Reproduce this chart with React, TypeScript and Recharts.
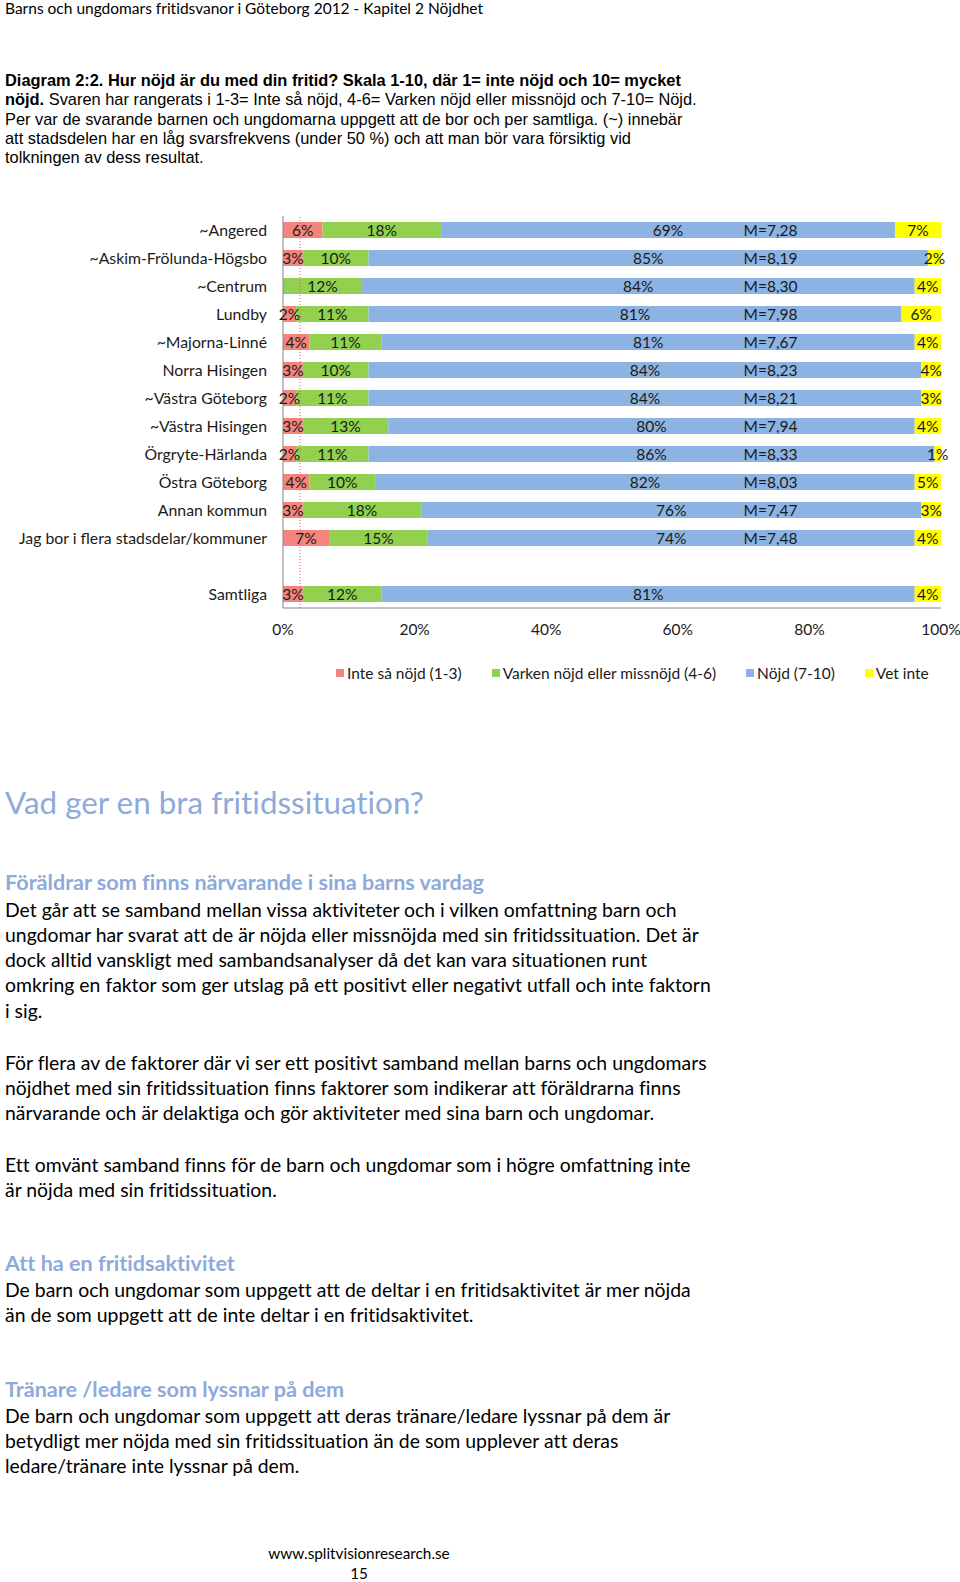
import React from "react";
import { BarChart, Bar, XAxis, YAxis, LabelList, ReferenceLine, Legend } from "recharts";

const categories = [
  "~Angered",
  "~Askim-Frölunda-Högsbo",
  "~Centrum",
  "Lundby",
  "~Majorna-Linné",
  "Norra Hisingen",
  "~Västra Göteborg",
  "~Västra Hisingen",
  "Örgryte-Härlanda",
  "Östra Göteborg",
  "Annan kommun",
  "Jag bor i flera stadsdelar/kommuner",
  "",
  "Samtliga",
];
const inteNojd = [6, 3, 0, 2, 4, 3, 2, 3, 2, 4, 3, 7, null, 3];
const varken = [18, 10, 12, 11, 11, 10, 11, 13, 11, 10, 18, 15, null, 12];
const nojd = [69, 85, 84, 81, 81, 84, 84, 80, 86, 82, 76, 74, null, 81];
const vetInte = [7, 2, 4, 6, 4, 4, 3, 4, 1, 5, 3, 4, null, 4];
const meanLabels = [
  "M=7,28", "M=8,19", "M=8,30", "M=7,98", "M=7,67", "M=8,23", "M=8,21",
  "M=7,94", "M=8,33", "M=8,03", "M=7,47", "M=7,48", "", "M=8",
];
const seriesNames = [
  "Inte så nöjd (1-3)",
  "Varken nöjd eller missnöjd (4-6)",
  "Nöjd (7-10)",
  "Vet inte",
];
const xTicks = [0, 20, 40, 60, 80, 100];
const referenceValue = 2.6;
const meanLabelPosition = 70;

const COLORS = ["#F4857C", "#92D050", "#8DB3E2", "#FFFF00"];
const CHART_FONT = "Lato, 'Noto Sans', sans-serif";
const TEXT_FONT = "Lato, 'Noto Sans', sans-serif";
const HEAD_BLUE = "#8EAADB";
const LABEL_SIZE = 15.5;

const data = categories.map((name, i) => ({
  name,
  inte: inteNojd[i],
  varken: varken[i],
  nojd: nojd[i],
  vet: vetInte[i],
  mean: meanLabels[i],
}));

const pctLabel = (props: any) => {
  const { x, y, width, height, value } = props;
  if (value == null || value === 0) return null;
  return (
    <text
      x={Number(x) + Number(width) / 2}
      y={Number(y) + Number(height) / 2}
      textAnchor="middle"
      dominantBaseline="central"
      fontSize={LABEL_SIZE}
      fontFamily={CHART_FONT}
      fill="#1a1a1a"
    >
      {value}%
    </text>
  );
};

const meanLabel = (props: any) => {
  const { x, y, width, height, index } = props;
  const txt = meanLabels[index];
  const val = nojd[index];
  if (!txt || !val) return null;
  const start = (inteNojd[index] || 0) + (varken[index] || 0);
  const px = Number(x) + ((meanLabelPosition - start) * Number(width)) / val;
  return (
    <text
      x={px}
      y={Number(y) + Number(height) / 2}
      textAnchor="start"
      dominantBaseline="central"
      fontSize={LABEL_SIZE}
      fontFamily={CHART_FONT}
      fill="#1a1a1a"
    >
      {txt}
    </text>
  );
};

const legendContent = () => (
  <div
    style={{
      display: "flex",
      justifyContent: "flex-start",
      alignItems: "center",
      height: 20,
      paddingLeft: 336,
      fontFamily: CHART_FONT,
      fontSize: LABEL_SIZE,
      color: "#1a1a1a",
      whiteSpace: "nowrap",
    }}
  >
    {seriesNames.map((name, i) => (
      <div key={i} style={{ display: "flex", alignItems: "center", marginRight: 30 }}>
        <span style={{ width: 8, height: 8, background: COLORS[i], display: "inline-block", marginRight: 3 }} />
        <span>{name}</span>
      </div>
    ))}
  </div>
);

const Lines = ({ lines, top, left, size, lh, color, weight, family, center }: any) => (
  <div
    style={{
      position: "absolute",
      top,
      left,
      fontSize: size,
      lineHeight: `${lh}px`,
      color: color || "#000",
      fontWeight: weight || 400,
      fontFamily: family || TEXT_FONT,
      whiteSpace: "nowrap",
      fontVariantLigatures: "none",
      textAlign: center ? "center" : "left",
      width: center ? 300 : undefined,
    }}
  >
    {lines.map((l: string, i: number) => (
      <div key={i}>{l}</div>
    ))}
  </div>
);

const BODY = 19.4;
const SUB = 21.6;

export default function App() {
  return (
    <div style={{ position: "absolute", left: 0, top: 0, width: 960, height: 1582, background: "#fff", overflow: "hidden" }}>
      <Lines
        top={0}
        left={5}
        size={15.5}
        lh={17}
        lines={["Barns och ungdomars fritidsvanor i Göteborg 2012  - Kapitel 2 Nöjdhet"]}
      />
      <div
        style={{
          position: "absolute",
          top: 71,
          left: 5,
          fontFamily: "'Liberation Sans', Arial, sans-serif",
          fontSize: 16.4,
          lineHeight: "19.3px",
          whiteSpace: "nowrap",
          color: "#000",
        }}
      >
        <div><b>Diagram 2:2. Hur nöjd är du med din fritid? Skala 1-10, där 1= inte nöjd och 10= mycket</b></div>
        <div><b>nöjd.</b> Svaren har rangerats i 1-3= Inte så nöjd, 4-6= Varken nöjd eller missnöjd och 7-10= Nöjd.</div>
        <div>Per var de svarande barnen och ungdomarna uppgett att de bor och per samtliga. (~) innebär</div>
        <div>att stadsdelen har en låg svarsfrekvens (under 50 %) och att man bör vara försiktig vid</div>
        <div>tolkningen av dess resultat.</div>
      </div>

      <div style={{ position: "absolute", left: 0, top: 200 }}>
        <BarChart
          width={960}
          height={500}
          data={data}
          layout="vertical"
          margin={{ top: 16, right: 19, bottom: 17, left: 0 }}
          barCategoryGap={12}
          style={{ fontFamily: CHART_FONT }}
        >
          <XAxis
            type="number"
            domain={[0, 100]}
            ticks={xTicks}
            allowDataOverflow
            tickFormatter={(v: number) => `${v}%`}
            tickLine={false}
            axisLine={{ stroke: "#868686" }}
            tick={{ fontSize: LABEL_SIZE, fill: "#1a1a1a" }}
            tickMargin={10}
            height={55}
            interval={0}
          />
          <YAxis
            type="category"
            dataKey="name"
            width={283}
            tickLine={false}
            axisLine={{ stroke: "#868686" }}
            tick={{ fontSize: 15.8, fill: "#1a1a1a" }}
            tickMargin={10}
            interval={0}
          />
          <Legend
            verticalAlign="bottom"
            content={legendContent}
            wrapperStyle={{ left: 0, width: 960 }}
          />
          <Bar dataKey="inte" name={seriesNames[0]} stackId="a" fill={COLORS[0]} barSize={16} isAnimationActive={false}>
            <LabelList dataKey="inte" content={pctLabel} />
          </Bar>
          <Bar dataKey="varken" name={seriesNames[1]} stackId="a" fill={COLORS[1]} barSize={16} isAnimationActive={false}>
            <LabelList dataKey="varken" content={pctLabel} />
          </Bar>
          <Bar dataKey="nojd" name={seriesNames[2]} stackId="a" fill={COLORS[2]} barSize={16} isAnimationActive={false}>
            <LabelList dataKey="nojd" content={pctLabel} />
            <LabelList dataKey="mean" content={meanLabel} />
          </Bar>
          <Bar dataKey="vet" name={seriesNames[3]} stackId="a" fill={COLORS[3]} barSize={16} isAnimationActive={false}>
            <LabelList dataKey="vet" content={pctLabel} />
          </Bar>
          <ReferenceLine x={referenceValue} stroke="#E06666" strokeDasharray="1 2" strokeWidth={1} />
        </BarChart>
      </div>

      <Lines
        top={782}
        left={5}
        size={31.4}
        lh={40}
        color={HEAD_BLUE}
        lines={["Vad ger en bra fritidssituation?"]}
      />
      <Lines
        top={869}
        left={5}
        size={SUB}
        lh={26}
        weight={700}
        color={HEAD_BLUE}
        lines={["Föräldrar som finns närvarande i sina barns vardag"]}
      />
      <Lines
        top={896.5}
        left={5}
        size={BODY}
        lh={25.25}
        lines={[
          "Det går att se samband mellan vissa aktiviteter och i vilken omfattning barn och",
          "ungdomar har svarat att de är nöjda eller missnöjda med sin fritidssituation. Det är",
          "dock alltid vanskligt med sambandsanalyser då det kan vara situationen runt",
          "omkring en faktor som ger utslag på ett positivt eller negativt utfall och inte faktorn",
          "i sig.",
        ]}
      />
      <Lines
        top={1049.5}
        left={5}
        size={BODY}
        lh={25.25}
        lines={[
          "För flera av de faktorer där vi ser ett positivt samband mellan barns och ungdomars",
          "nöjdhet med sin fritidssituation finns faktorer som indikerar att föräldrarna finns",
          "närvarande och är delaktiga och gör aktiviteter med sina barn och ungdomar.",
        ]}
      />
      <Lines
        top={1151.5}
        left={5}
        size={BODY}
        lh={25.25}
        lines={[
          "Ett omvänt samband finns för de barn och ungdomar som i högre omfattning inte",
          "är nöjda med sin fritidssituation.",
        ]}
      />
      <Lines
        top={1250}
        left={5}
        size={SUB}
        lh={26}
        weight={700}
        color={HEAD_BLUE}
        lines={["Att ha en fritidsaktivitet"]}
      />
      <Lines
        top={1276.5}
        left={5}
        size={BODY}
        lh={25.25}
        lines={[
          "De barn och ungdomar som uppgett att de deltar i en fritidsaktivitet är mer nöjda",
          "än de som uppgett att de inte deltar i en fritidsaktivitet.",
        ]}
      />
      <Lines
        top={1376}
        left={5}
        size={SUB}
        lh={26}
        weight={700}
        color={HEAD_BLUE}
        lines={["Tränare /ledare som lyssnar på dem"]}
      />
      <Lines
        top={1402.5}
        left={5}
        size={BODY}
        lh={25.25}
        lines={[
          "De barn och ungdomar som uppgett att deras tränare/ledare lyssnar på dem är",
          "betydligt mer nöjda med sin fritidssituation än de som upplever att deras",
          "ledare/tränare inte lyssnar på dem.",
        ]}
      />
      <Lines
        top={1543}
        left={209}
        size={15.3}
        lh={20}
        center
        lines={["www.splitvisionresearch.se", "15"]}
      />
    </div>
  );
}
